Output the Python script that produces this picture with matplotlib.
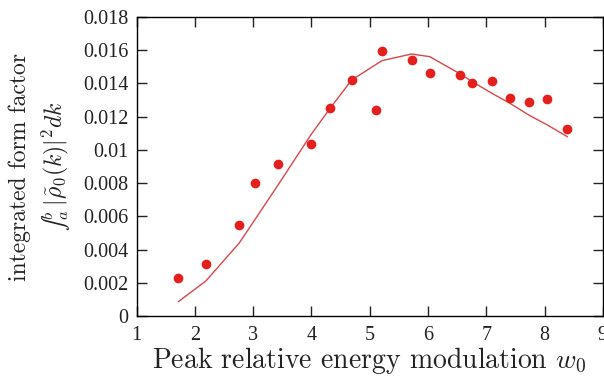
import matplotlib
matplotlib.use("Agg")
import matplotlib.pyplot as plt
from matplotlib.ticker import FuncFormatter

plt.rcParams["mathtext.fontset"] = "cm"

# simulated points (dots)
w0_sim = [1.72, 2.19, 2.76, 3.03, 3.43, 3.99, 4.32, 4.69, 5.11, 5.21,
          5.72, 6.03, 6.55, 6.76, 7.10, 7.41, 7.73, 8.05, 8.39]
ff_sim = [0.00232, 0.00314, 0.00551, 0.0080, 0.00918, 0.01036, 0.01254,
          0.01423, 0.01242, 0.01593, 0.01543, 0.01461, 0.01451, 0.01401,
          0.01415, 0.01311, 0.0129, 0.01305, 0.01124]

# model curve
w0_model = [1.72, 2.19, 2.76, 3.03, 3.43, 3.99, 4.32, 4.69, 5.21,
            5.72, 6.03, 6.55, 6.76, 7.10, 7.41, 7.73, 8.05, 8.39]
ff_model = [0.00088, 0.00212, 0.00439, 0.0058, 0.0079, 0.0109, 0.0125,
            0.0142, 0.01537, 0.01577, 0.01561, 0.01458, 0.01411, 0.0134,
            0.0128, 0.0121, 0.0115, 0.0108]

xticks = [1, 2, 3, 4, 5, 6, 7, 8, 9]
yticks = [0, 0.002, 0.004, 0.006, 0.008, 0.01, 0.012, 0.014, 0.016, 0.018]

fig = plt.figure(figsize=(6.04, 3.76), dpi=100)
ax = fig.add_axes([0.226, 0.159, 0.772, 0.796])

ax.plot(w0_model, ff_model, color="#d9474a", lw=1.0)
ax.plot(w0_sim, ff_sim, "o", color="#e3201e", ms=7, mec="none")

ax.set_xlim(1, 9)
ax.set_ylim(0, 0.018)
ax.set_xticks(xticks)
ax.set_yticks(yticks)
ax.yaxis.set_major_formatter(FuncFormatter(lambda v, _: "%g" % round(v, 4)))

for s in ax.spines.values():
    s.set_linewidth(1.0)
ax.tick_params(direction="in", length=7, width=1.0, top=True, right=True,
               labelsize=14.5, colors="#222222", pad=6)
for lab in ax.get_xticklabels() + ax.get_yticklabels():
    lab.set_fontfamily("Liberation Serif")
ax.tick_params(axis="x", pad=7)

ax.set_xlabel("Peak relative energy modulation $w_0$", fontsize=20,
              fontfamily="cmr10", color="#222222", labelpad=0)
# text-style integral: the unicode sign keeps it at line height
ax.set_ylabel("integrated form factor\n$\u222b_a^b\\,|\\tilde{\\rho}_0(k)|^2 dk$",
              fontsize=17, fontfamily="cmr10", color="#222222",
              linespacing=1.35, labelpad=8)

fig.savefig("out.png", dpi=100)
